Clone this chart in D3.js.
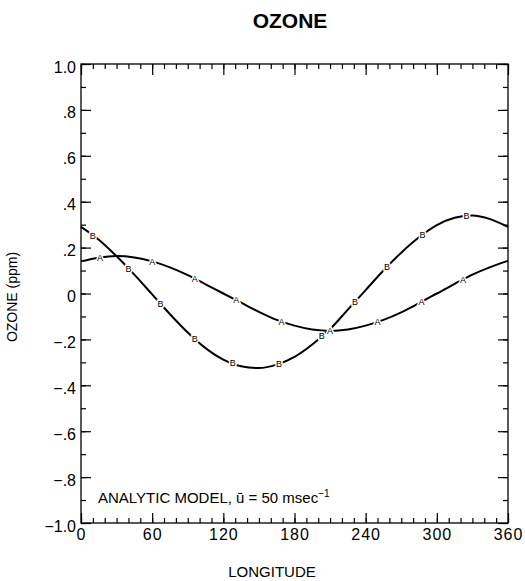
<!DOCTYPE html>
<html>
<head>
<meta charset="utf-8">
<script src="https://cdn.jsdelivr.net/npm/d3@7"></script>
<style>
  html, body { margin: 0; padding: 0; background: #fff; }
  svg { display: block; font-family: "Liberation Sans", Arial, Helvetica, sans-serif; }
</style>
</head>
<body>
<svg id="chart" width="525" height="581"></svg>
<script>
// Longitude grid (degrees) shared by both curves
const longitudes = [0, 15, 30, 45, 60, 75, 90, 105, 120, 135, 150, 165, 180,
                    195, 210, 225, 240, 255, 270, 285, 300, 315, 330, 345, 360];

// Ozone perturbation (ppm), curve A
const ozoneA = [0.140, 0.156, 0.163, 0.157, 0.140, 0.114, 0.080, 0.040, 0.000, -0.040,
                -0.080, -0.115, -0.140, -0.157, -0.163, -0.157, -0.140, -0.115, -0.082, -0.042,
                0.000, 0.042, 0.082, 0.115, 0.142];

// Ozone perturbation (ppm), curve B
const ozoneB = [0.290, 0.234, 0.162, 0.082, -0.004, -0.090, -0.170, -0.238, -0.288, -0.317,
                -0.325, -0.310, -0.276, -0.222, -0.155, -0.070, 0.015, 0.100, 0.178, 0.245,
                0.298, 0.330, 0.340, 0.324, 0.290];

// Longitudes where the curve letters sit
const markA = [16, 60, 96, 131, 169, 210, 250, 287, 322];
const markB = [10, 40, 67, 96, 128, 167, 203, 231, 258, 288, 325];

// Tick values
const xMajor = [0, 60, 120, 180, 240, 300, 360];
const xMinor = d3.range(0, 361, 10);
const yMajor = [-1.0, -0.8, -0.6, -0.4, -0.2, 0, 0.2, 0.4, 0.6, 0.8, 1.0];
const yMinor = d3.range(-10, 11, 1).map(d => d / 10);

const svg = d3.select("#chart");
const plotLeft = 81, plotRight = 508, plotTop = 64, plotBottom = 523;

const x = d3.scaleLinear().domain([0, 360]).range([plotLeft, plotRight]);
const y = d3.scaleLinear().domain([-1, 1]).range([plotBottom, plotTop]);

const yFmt = v => {
  if (Math.abs(v) < 1e-9) return "0";
  const s = Math.abs(v).toFixed(1).replace(/^0/, "");
  return (v < 0 ? "\u2212" : "") + s;
};

// Title
svg.append("text")
  .attr("x", 290).attr("y", 28)
  .attr("text-anchor", "middle")
  .attr("font-size", 21).attr("font-weight", "bold")
  .text("OZONE");

// Frame
svg.append("rect")
  .attr("x", plotLeft).attr("y", plotTop)
  .attr("width", plotRight - plotLeft).attr("height", plotBottom - plotTop)
  .attr("fill", "none").attr("stroke", "#000").attr("stroke-width", 1.3);

function styleAxis(g) {
  g.select(".domain").remove();
  g.selectAll(".tick line").attr("stroke", "#000").attr("stroke-width", 1.2);
}

// Minor ticks on all four sides
svg.append("g").attr("transform", `translate(0,${plotBottom})`)
  .call(d3.axisBottom(x).tickValues(xMinor).tickSize(-5).tickFormat(""))
  .call(styleAxis);
svg.append("g").attr("transform", `translate(0,${plotTop})`)
  .call(d3.axisTop(x).tickValues(xMinor).tickSize(-5).tickFormat(""))
  .call(styleAxis);
svg.append("g").attr("transform", `translate(${plotLeft},0)`)
  .call(d3.axisLeft(y).tickValues(yMinor).tickSize(-5).tickFormat(""))
  .call(styleAxis);
svg.append("g").attr("transform", `translate(${plotRight},0)`)
  .call(d3.axisRight(y).tickValues(yMinor).tickSize(-5).tickFormat(""))
  .call(styleAxis);

// Major ticks and labels
const xAxis = svg.append("g").attr("transform", `translate(0,${plotBottom})`)
  .call(d3.axisBottom(x).tickValues(xMajor).tickSize(-10).tickPadding(6).tickFormat(d3.format("d")))
  .call(styleAxis);
xAxis.selectAll(".tick text")
  .attr("font-size", 16).attr("letter-spacing", 1).attr("fill", "#000")
  .attr("font-family", "'Liberation Sans', Arial, sans-serif");

svg.append("g").attr("transform", `translate(0,${plotTop})`)
  .call(d3.axisTop(x).tickValues(xMajor).tickSize(-11).tickFormat(""))
  .call(styleAxis);

const yAxis = svg.append("g").attr("transform", `translate(${plotLeft},0)`)
  .call(d3.axisLeft(y).tickValues(yMajor).tickSize(-10).tickPadding(5).tickFormat(yFmt))
  .call(styleAxis);
yAxis.selectAll(".tick text")
  .attr("font-size", 16).attr("fill", "#000").attr("dy", "0.5em")
  .attr("font-family", "'Liberation Sans', Arial, sans-serif");

svg.append("g").attr("transform", `translate(${plotRight},0)`)
  .call(d3.axisRight(y).tickValues(yMajor).tickSize(-10).tickFormat(""))
  .call(styleAxis);

// Axis titles
svg.append("text")
  .attr("x", 272).attr("y", 577)
  .attr("text-anchor", "middle").attr("font-size", 15)
  .text("LONGITUDE");

svg.append("text")
  .attr("transform", "translate(17,297) rotate(-90)")
  .attr("text-anchor", "middle").attr("font-size", 14)
  .text("OZONE (ppm)");

// Curves
const line = d3.line()
  .x(d => x(d[0]))
  .y(d => y(d[1]))
  .curve(d3.curveMonotoneX);

const interp = (vals) => lon => {
  const i = Math.min(longitudes.length - 2, Math.floor(lon / 15));
  const t = (lon - longitudes[i]) / 15;
  return vals[i] + t * (vals[i + 1] - vals[i]);
};

const series = [
  { name: "A", vals: ozoneA, marks: markA },
  { name: "B", vals: ozoneB, marks: markB }
];

series.forEach(s => {
  svg.append("path")
    .datum(longitudes.map((l, i) => [l, s.vals[i]]))
    .attr("d", line)
    .attr("fill", "none")
    .attr("stroke", "#000")
    .attr("stroke-width", 2);
});

series.forEach(s => {
  const f = interp(s.vals);
  svg.append("g").selectAll("text")
    .data(s.marks)
    .join("text")
    .attr("x", d => x(d))
    .attr("y", d => y(f(d)))
    .attr("dy", "0.35em")
    .attr("text-anchor", "middle")
    .attr("font-size", 9)
    .attr("stroke", "#fff").attr("stroke-width", 3)
    .attr("paint-order", "stroke")
    .attr("fill", "#000")
    .text(s.name);
});

// Model annotation
const note = svg.append("text")
  .attr("x", 98).attr("y", 503)
  .attr("font-size", 15);
note.append("tspan").text("ANALYTIC MODEL, \u016B = 50 msec");
note.append("tspan").attr("font-size", 10).attr("dy", -6).text("\u22121");
</script>
</body>
</html>
